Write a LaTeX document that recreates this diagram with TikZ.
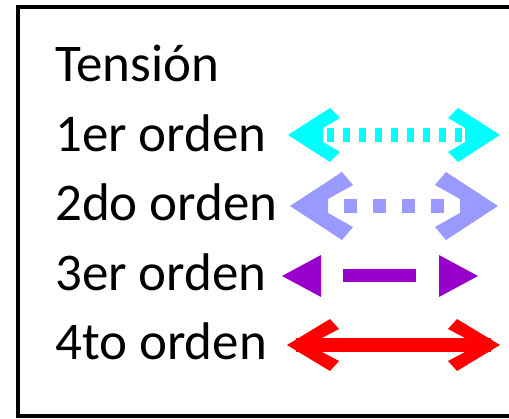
\documentclass[tikz,border=0pt]{standalone}
\usepackage{fontspec}
\setmainfont{Carlito}
\usetikzlibrary{positioning}
\definecolor{tcyan}{HTML}{00FFFF}
\definecolor{tlav}{HTML}{9999FF}
\definecolor{tpurp}{HTML}{9900CC}
\definecolor{tred}{HTML}{FF0000}

\begin{document}
\begin{tikzpicture}[x=1pt, y=-1pt]
			\tikzset{%
				orden/.style={anchor=base west, inner sep=0pt, font=\fontsize{53}{60}\selectfont},
				shaft/.style={line width=14pt},
				cyanhead/.pic={\fill[tcyan] (0,0) -- (42,-27) -- (52,-17) -- (35,-7) -- (35,7) -- (52,17) -- (42,27) -- cycle;},
				lavhead/.pic={\fill[tlav] (0,0) -- (52,-34) -- (63,-21) -- (38,-7) -- (38,7) -- (63,21) -- (52,34) -- cycle;},
				redhead/.pic={\fill[tred] (0,0) -- (43,-26) -- (52,-16) -- (35,-7) -- (35,7) -- (52,16) -- (43,26) -- cycle;},
				purphead/.pic={\fill[tpurp] (0,0) -- (39,-21) -- (39,21) -- cycle;}
			}
			\useasboundingbox (0,0) rectangle (509,419);
			\clip (0,0) rectangle (509,419);
			% box, right side cut off
			\draw[line width=4pt] (520,7) -- (18,7) -- (18,416) -- (520,416);
			% labels
			\node[orden](tension) at (55,82) {Tensión};
			\node[orden](ord1) at (55,151.5) {1er orden};
			\node[orden](ord2) at (55,221) {2do orden};
			\node[orden](ord3) at (55,290.5) {3er orden};
			\node[orden](ord4) at (55,360) {4to orden};
			% 1er orden
			\coordinate (a1) at (327,135); \coordinate (b1) at (462,135);
			\draw[shaft, tcyan, dash pattern=on 7pt off 9pt] (a1) -- (b1);
			\pic at (288,135) {cyanhead}; \pic[xscale=-1] at (500,135) {cyanhead};
			% 2do orden
			\coordinate (a2) at (344,206); \coordinate (b2) at (444,206);
			\draw[shaft, tlav, dash pattern=on 13pt off 16pt] (a2) -- (b2);
			\pic at (290,206) {lavhead}; \pic[xscale=-1] at (498,206) {lavhead};
			% 3er orden
			\coordinate (a3) at (343,276); \coordinate (b3) at (416,276);
			\draw[shaft, tpurp, line width=13pt] (a3) -- (b3);
			\pic at (282,276) {purphead}; \pic[xscale=-1] at (478,276) {purphead};
			% 4to orden
			\coordinate (a4) at (296,345); \coordinate (b4) at (491,345);
			\draw[shaft, tred] (a4) -- (b4);
			\pic at (287,345) {redhead}; \pic[xscale=-1] at (500,345) {redhead};
		\end{tikzpicture}
\end{document}
